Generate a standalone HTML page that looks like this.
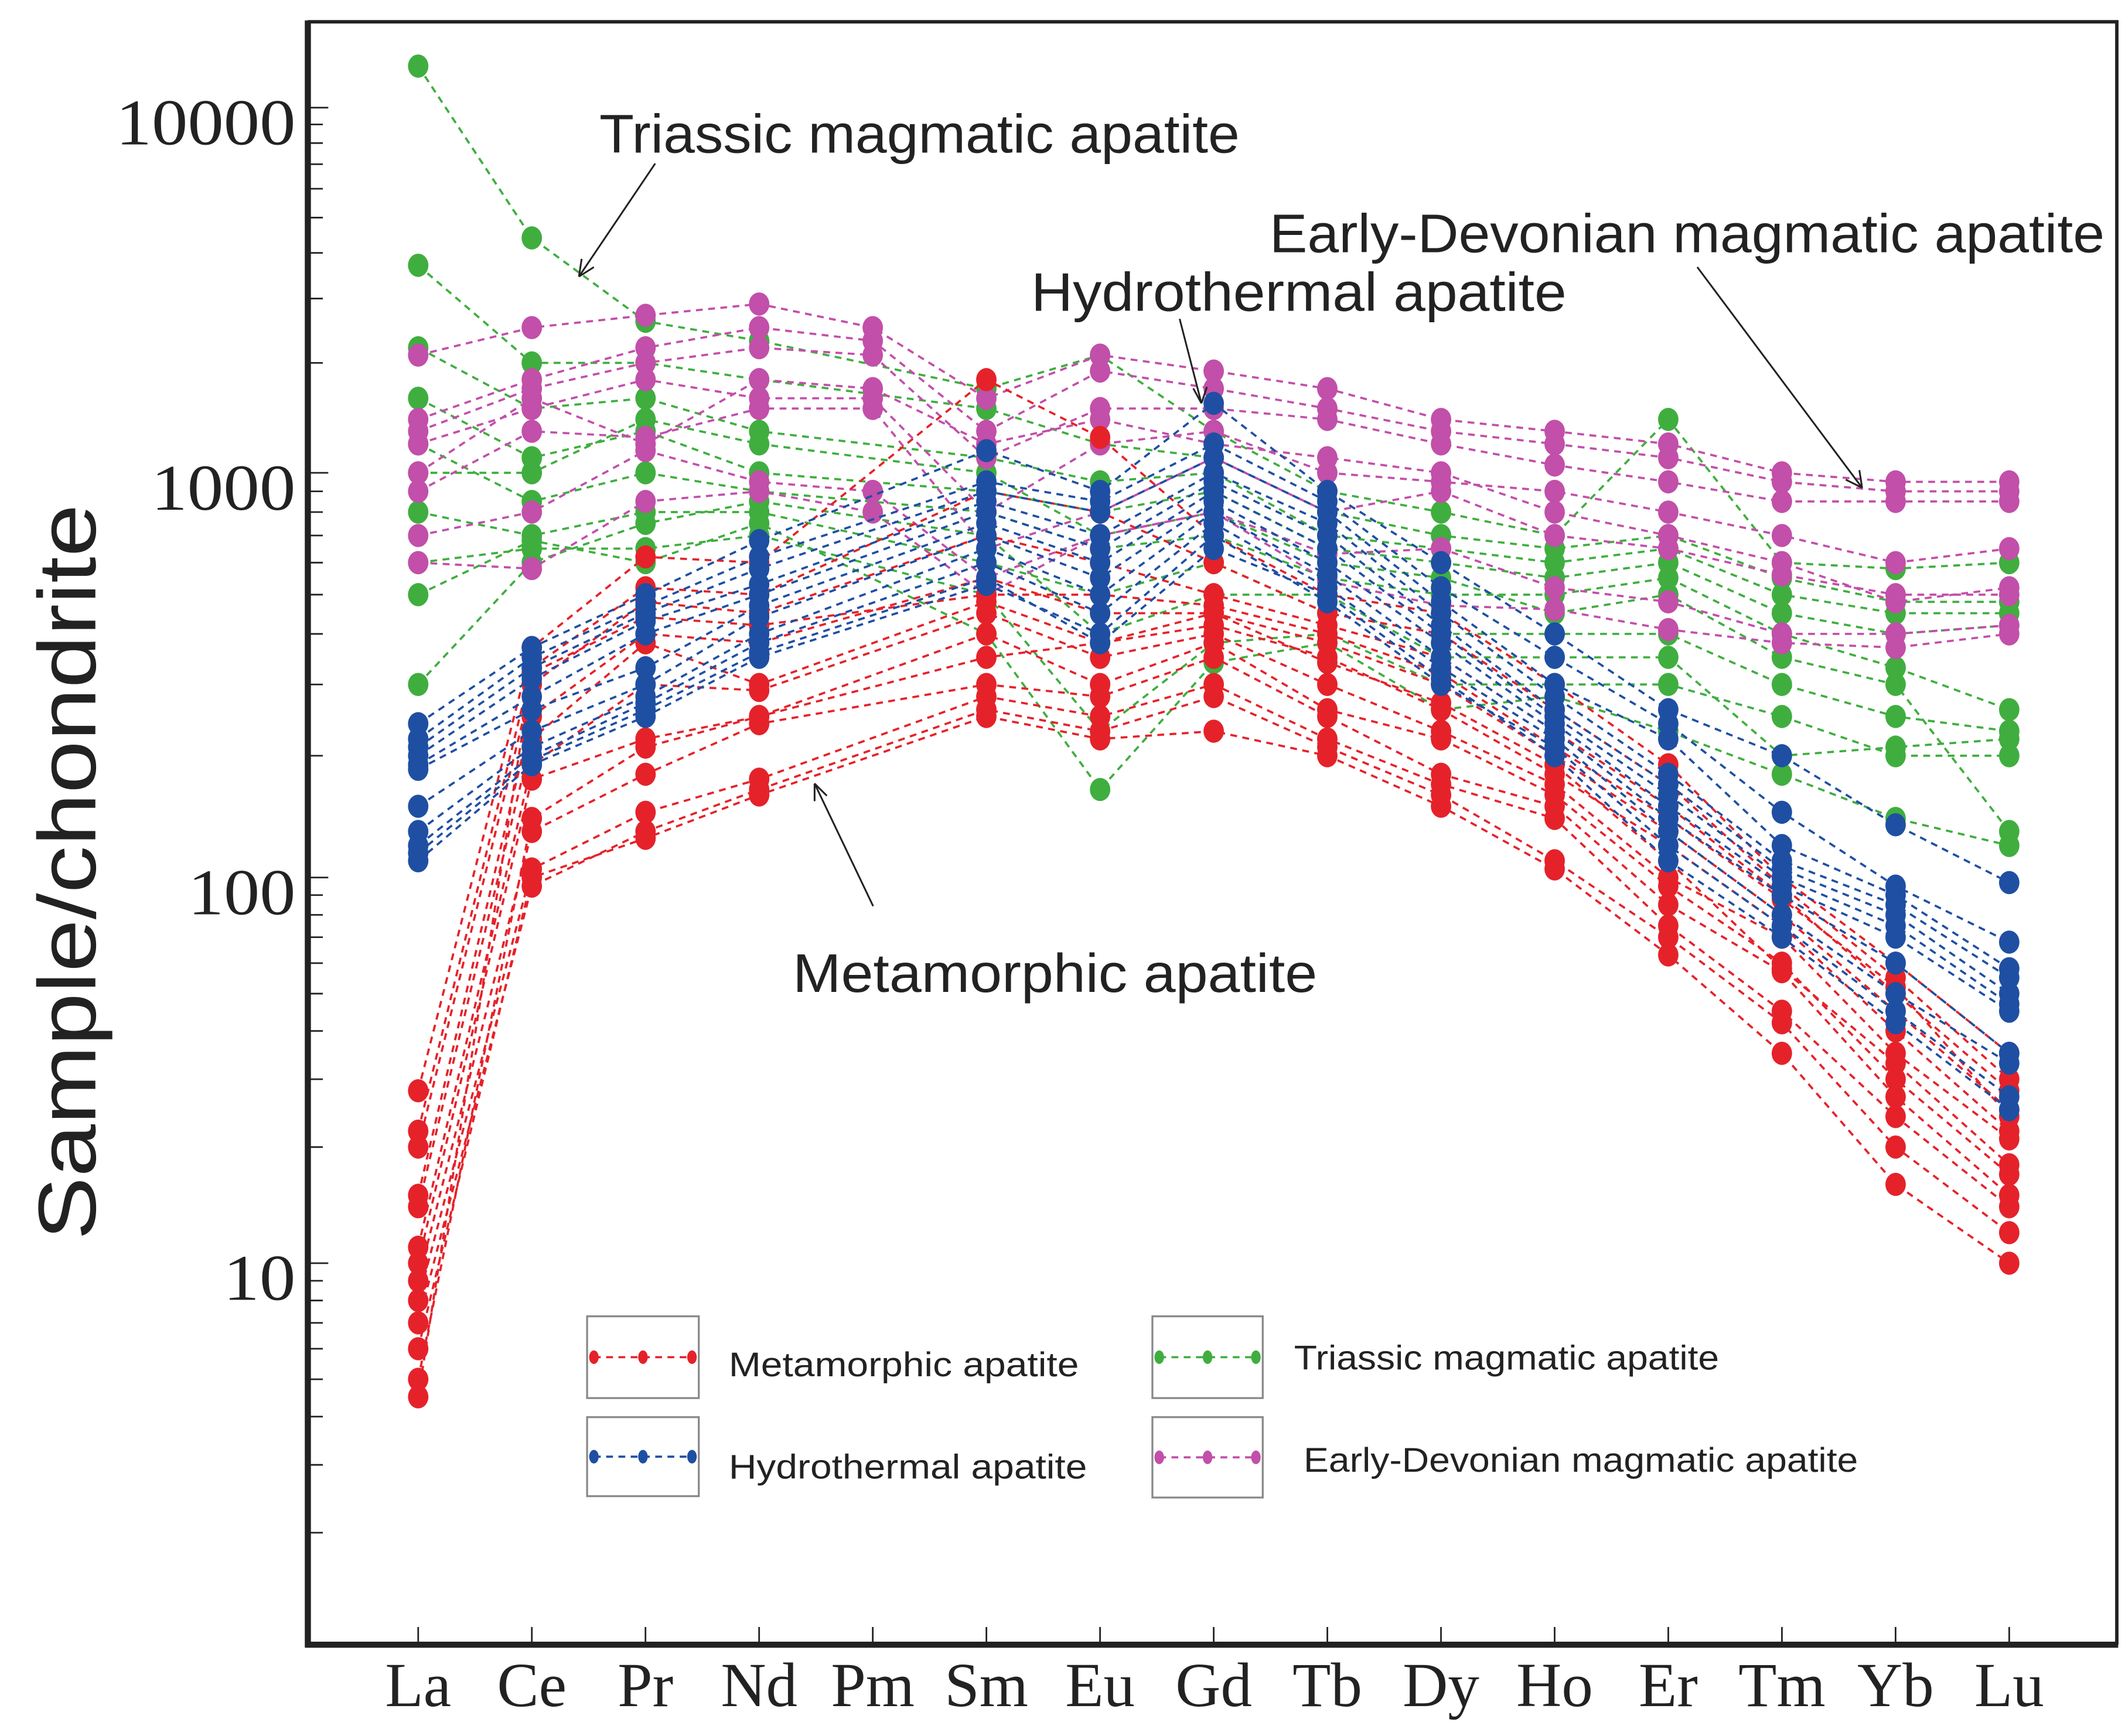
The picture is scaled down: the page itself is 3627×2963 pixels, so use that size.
<!DOCTYPE html>
<html><head><meta charset="utf-8"><style>
html,body{margin:0;padding:0;background:#fff}
svg{display:block}
</style></head><body>
<svg id="chart" xmlns="http://www.w3.org/2000/svg" width="3627" height="2963" viewBox="0 0 1560 1274" preserveAspectRatio="none">
<g id="series"></g>
<g id="axes"></g>
<g font-family="Liberation Sans, sans-serif" fill="#222">
 <text x="440" y="112" font-size="40" textLength="470" lengthAdjust="spacingAndGlyphs">Triassic magmatic apatite</text>
 <line x1="481" y1="120" x2="425" y2="203" stroke="#222" stroke-width="1.3"/>
 <path d="M425 203 L427 190 M425 203 L436 196" stroke="#222" stroke-width="1.3" fill="none"/>
 <text x="757" y="228" font-size="40" textLength="393" lengthAdjust="spacingAndGlyphs">Hydrothermal  apatite</text>
 <line x1="866" y1="234" x2="882" y2="296" stroke="#222" stroke-width="1.3"/>
 <path d="M882 296 L876 285 M882 296 L886 284" stroke="#222" stroke-width="1.3" fill="none"/>
 <text x="932" y="185" font-size="40" textLength="613" lengthAdjust="spacingAndGlyphs">Early-Devonian magmatic apatite</text>
 <line x1="1246" y1="196" x2="1367" y2="358" stroke="#222" stroke-width="1.3"/>
 <path d="M1367 358 L1355 352 M1367 358 L1365 345" stroke="#222" stroke-width="1.3" fill="none"/>
 <text x="582" y="728" font-size="40" textLength="385" lengthAdjust="spacingAndGlyphs">Metamorphic  apatite</text>
 <line x1="641" y1="665" x2="598" y2="575" stroke="#222" stroke-width="1.3"/>
 <path d="M598 575 L598 588 M598 575 L607 584" stroke="#222" stroke-width="1.3" fill="none"/>
</g>
<g id="legend" font-family="Liberation Sans, sans-serif" fill="#222"></g>
</svg>
<script>
const categories = ["La","Ce","Pr","Nd","Pm","Sm","Eu","Gd","Tb","Dy","Ho","Er","Tm","Yb","Lu"];
const yTickLabels = ["10","100","1000","10000"];
const yTickValues = [10,100,1000,10000];
const metamorphic = [
 [28,370,620,600,null,1800,1250,700,500,450,300,190,100,60,35],
 [22,330,520,500,null,900,800,600,450,400,260,170,95,55,30],
 [20,300,480,450,null,700,600,500,420,350,230,150,90,50,28],
 [15,250,400,380,null,550,450,450,380,300,200,130,80,45,25],
 [14,220,380,300,null,480,380,420,350,260,180,120,75,40,22],
 [11,190,300,290,null,450,350,400,300,230,170,100,70,35,21],
 [10,175,220,250,null,400,300,380,260,220,160,95,60,30,17],
 [9,130,180,240,null,300,280,350,250,180,150,85,57,27,15],
 [8,105,145,175,null,280,250,300,220,170,140,75,45,24,14],
 [7,95,130,165,null,260,230,280,210,160,110,70,42,20,12],
 [6,100,125,160,null,250,220,230,200,150,105,63,35,16,10],
 [5,140,210,250,null,350,380,450,340,270,190,110,58,33,18],
 [4.5,320,440,420,null,500,500,470,400,320,210,140,88,52,24]
];
const hydrothermal = [
 [240,370,500,680,null,1150,900,1550,900,600,400,260,200,135,97],
 [220,350,470,620,null,950,850,1200,850,520,350,240,145,95,68],
 [210,330,450,580,null,900,800,1100,800,480,300,220,120,90,58],
 [200,310,430,530,null,850,700,1000,750,450,280,180,110,85,55],
 [190,280,400,500,null,800,650,950,700,420,260,170,105,80,50],
 [185,260,330,470,null,750,600,900,650,400,250,160,100,75,47],
 [150,230,300,440,null,700,550,850,600,380,240,150,95,70,45],
 [130,210,280,400,null,650,500,800,560,350,230,140,90,60,35],
 [120,200,270,380,null,600,450,750,520,330,220,130,80,50,33],
 [110,190,250,350,null,530,400,700,480,300,210,120,75,45,27],
 [115,195,260,360,null,550,380,650,500,310,200,110,70,42,25]
];
const triassic = [
 [13000,4400,2600,2300,null,1700,2100,1300,900,800,700,1400,600,580,600],
 [3700,2000,2000,1800,null,1500,1200,1100,800,700,650,700,550,480,480],
 [2200,1500,1600,1300,null,1100,950,1000,700,650,600,650,500,450,450],
 [1600,1100,1300,1000,null,900,800,900,650,600,550,600,450,400,420],
 [1200,850,1000,900,null,800,650,700,550,500,500,550,400,330,260],
 [800,700,800,800,null,600,500,600,450,400,400,400,300,250,230],
 [600,650,650,700,null,500,230,380,400,300,300,300,250,200,200],
 [500,680,600,750,null,400,165,340,380,260,280,230,180,140,120],
 [300,600,750,850,null,700,400,500,500,350,350,350,200,210,220],
 [1000,1000,1400,1200,null,1000,700,800,600,550,450,500,350,300,130]
];
const earlyDevonian = [
 [2100,2500,2700,2900,2500,1600,2100,1900,1700,1400,1300,1200,1000,950,950],
 [1400,1800,2200,2500,2300,1300,1900,1700,1500,1300,1200,1100,950,900,900],
 [1300,1700,2000,2200,2100,1100,1500,1500,1400,1200,1050,950,850,850,850],
 [1200,1500,1800,1600,1600,800,1200,1300,1000,950,900,800,700,600,650],
 [900,1300,1250,1500,1500,650,800,1100,800,900,700,650,560,500,500],
 [700,800,1150,950,900,550,700,800,630,650,520,480,400,400,420],
 [600,580,850,900,800,500,700,800,540,470,460,410,380,370,400],
 [1000,1600,1200,1800,1700,1200,1400,1200,1100,1000,800,700,600,480,520]
];
const legendLabels = ["Metamorphic  apatite","Hydrothermal  apatite","Triassic magmatic apatite","Early-Devonian magmatic apatite"];

const NS="http://www.w3.org/2000/svg";
const X0=307, XSTEP=(1475-307)/14;
const anchors=[[1,1210],[10,927],[100,644],[1000,347],[10000,79],[100000,-189]];
function xs(i){return X0+i*XSTEP;}
function ys(v){
  const l=Math.log10(v);
  for(let k=0;k<anchors.length-1;k++){
    const a=Math.log10(anchors[k][0]), b=Math.log10(anchors[k+1][0]);
    if(l<=b||k===anchors.length-2){const t=(l-a)/(b-a);return anchors[k][1]+t*(anchors[k+1][1]-anchors[k][1]);}
  }
}
function mk(tag,attrs,parent){const e=document.createElementNS(NS,tag);for(const k in attrs)e.setAttribute(k,attrs[k]);parent.appendChild(e);return e;}

const sg=document.getElementById('series');
function drawGroup(data,color,name){
  const g=mk('g',{},sg);
  
  
  data.forEach((row,ri)=>{
    const pts=[];
    row.forEach((v,i)=>{if(v!=null)pts.push([xs(i),ys(v)]);});
    const pl=mk('polyline',{points:pts.map(p=>p[0].toFixed(1)+','+p[1].toFixed(1)).join(' '),fill:'none',stroke:color,'stroke-width':1.6,'stroke-dasharray':'5 4'},g);
    
    
  });
  data.forEach((row,ri)=>{
    row.forEach((v,i)=>{
      if(v==null)return;
      const c=mk('ellipse',{cx:xs(i).toFixed(1),cy:ys(v).toFixed(1),rx:7.5,ry:8.5,fill:color},g);
      
      
    });
  });
}
drawGroup(triassic,'#3fae3f','triassic');
drawGroup(earlyDevonian,'#c24fa9','early-devonian');
drawGroup(metamorphic,'#e5222a','metamorphic');
drawGroup(hydrothermal,'#1f4fa3','hydrothermal');

const ax=document.getElementById('axes');
const L=226,R=1554,T=16,B=1207;
const fr=mk('path',{d:`M${L} ${T} L${R} ${T} L${R} ${B}`,fill:'none',stroke:'#222','stroke-width':2.5},ax);


const la=mk('line',{x1:L,y1:T-1,x2:L,y2:B+2,stroke:'#222','stroke-width':4.5},ax);


const ba=mk('line',{x1:L-2,y1:B,x2:R+1,y2:B,stroke:'#222','stroke-width':4.5},ax);


for(let d=1;d<=10000;d*=10){
  for(let m=1;m<=9;m++){
    const v=d*m; if(v<2)continue; const y=ys(v); if(y<T+2||y>B)continue;
    const t=mk('line',{x1:L,y1:y.toFixed(1),x2:L+(m===1?15:11),y2:y.toFixed(1),stroke:'#222','stroke-width':1.2},ax);
    
    
  }
}
{const y=ys(20000);const t=mk('line',{x1:L,y1:y,x2:L+11,y2:y,stroke:'#222','stroke-width':1.2},ax);}
yTickValues.forEach((v,i)=>{
  const lbl=yTickLabels[i];
  const t=mk('text',{x:217,y:(ys(v)+27).toFixed(1),'font-family':'Liberation Serif, serif','font-size':48,'text-anchor':'end',fill:'#222',textLength:(lbl.length*26.4).toFixed(0),lengthAdjust:'spacingAndGlyphs'},ax);
  t.textContent=lbl;
  
  
});
categories.forEach((c,i)=>{
  const t=mk('line',{x1:xs(i),y1:B,x2:xs(i),y2:B-13,stroke:'#222','stroke-width':1.2},ax);
  
  
  const tx=mk('text',{x:xs(i),y:1252,'font-family':'Liberation Serif, serif','font-size':46,'text-anchor':'middle',fill:'#222'},ax);
  tx.textContent=c;
  
  
});
const yt=mk('text',{x:0,y:0,transform:'translate(70,640) rotate(-90)','font-family':'Liberation Sans, sans-serif','font-size':60,'text-anchor':'middle',fill:'#222',textLength:540,lengthAdjust:'spacingAndGlyphs'},ax);
yt.textContent='Sample/chondrite';



const lg=document.getElementById('legend');
const legendColors=['#e5222a','#1f4fa3','#3fae3f','#c24fa9'];
const boxes=[[431,966,82,60],[431,1040,82,58],[846,966,81,60],[846,1040,81,59]];
const textPos=[[535,1010,257],[535,1085,263],[950,1005,312],[957,1080,407]];
legendLabels.forEach((lab,i)=>{
  const b=boxes[i];
  const g=mk('g',{},lg);
  
  
  mk('rect',{x:b[0],y:b[1],width:b[2],height:b[3],fill:'none',stroke:'#888','stroke-width':1.4},g);
  const cy=b[1]+b[3]/2;
  mk('line',{x1:b[0]+5,y1:cy,x2:b[0]+b[2]-5,y2:cy,stroke:legendColors[i],'stroke-width':1.6,'stroke-dasharray':'5 4'},g);
  [b[0]+5,b[0]+b[2]/2,b[0]+b[2]-5].forEach(x=>mk('ellipse',{cx:x,cy:cy,rx:3.5,ry:5,fill:legendColors[i]},g));
  const tp=textPos[i];
  const t=mk('text',{x:tp[0],y:tp[1],'font-size':25,textLength:tp[2],lengthAdjust:'spacingAndGlyphs'},g);
  t.textContent=lab;
});
</script>
</body></html>
